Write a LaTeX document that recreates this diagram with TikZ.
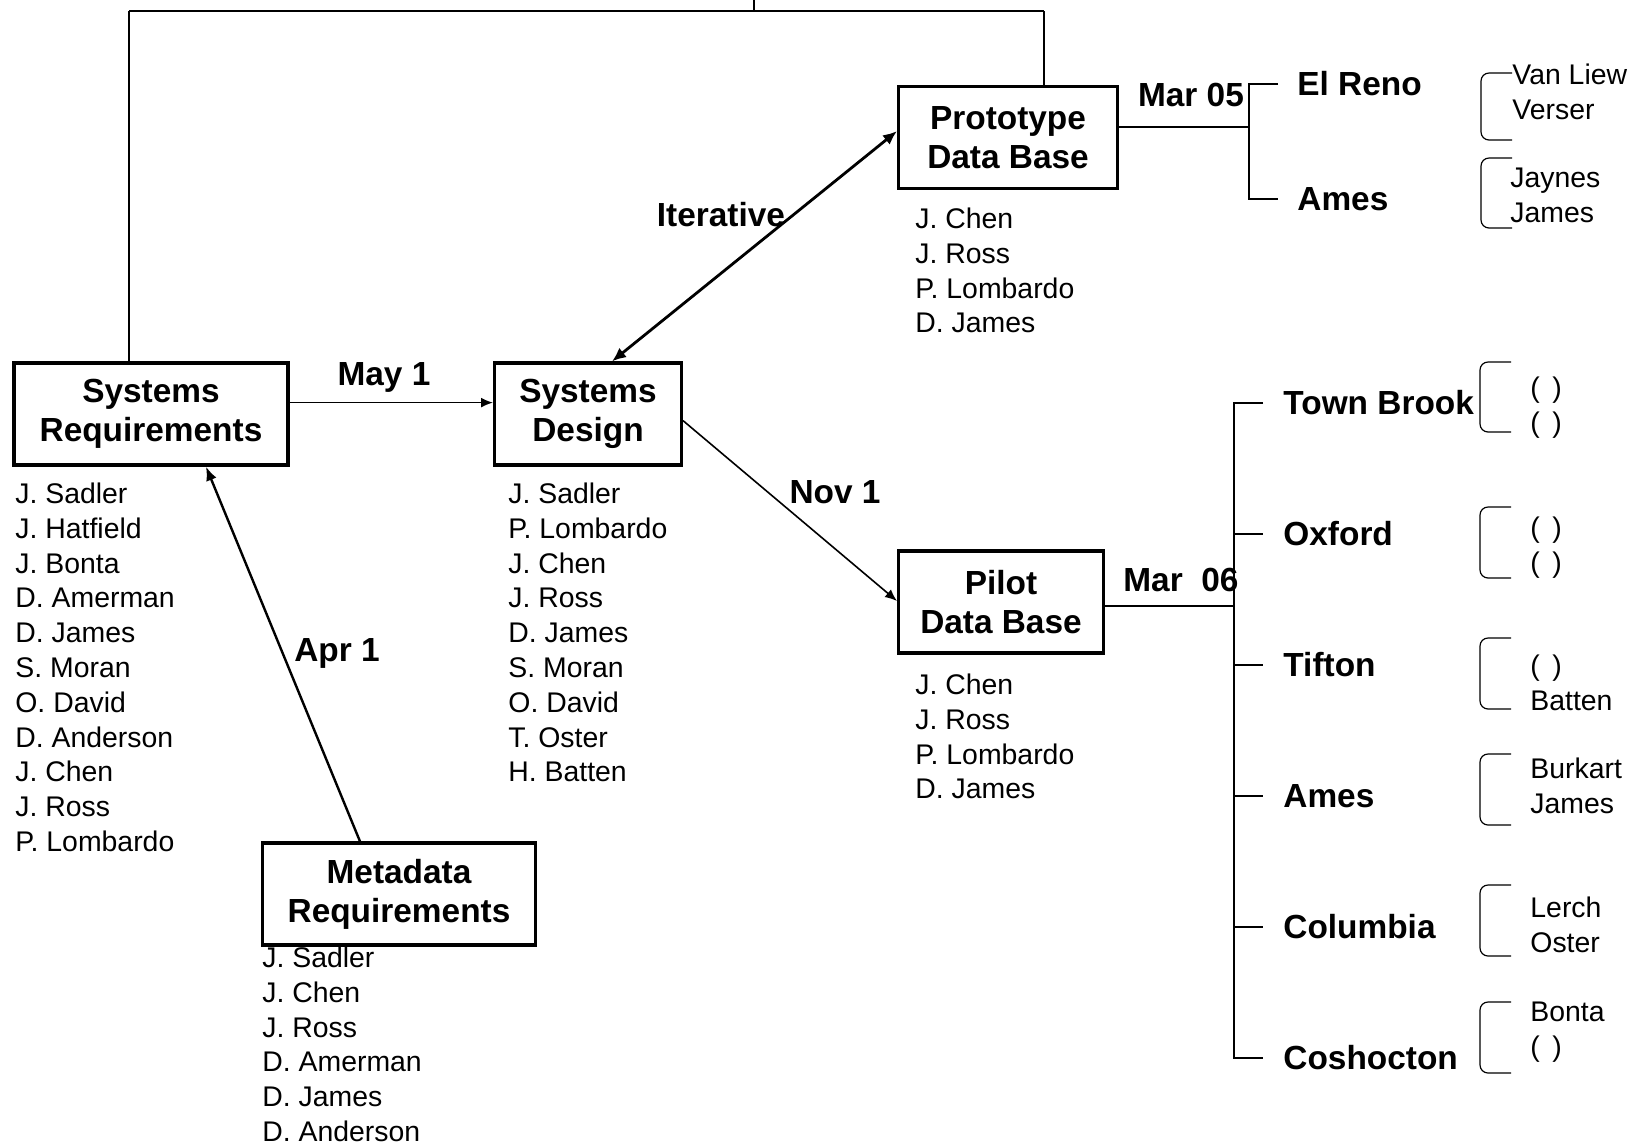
\documentclass[tikz,border=0pt]{standalone}
\usepackage{fontspec}
\setmainfont{Liberation Sans}
\usepackage{tikz}
\usetikzlibrary{arrows.meta}
\newcommand{\boxfont}{\fontsize{16.7}{19.4}\selectfont\bfseries}
\newcommand{\namefont}{\fontsize{14.2}{17.4}\selectfont}

\begin{document}
\begin{tikzpicture}[x=0.5pt, y=-0.5pt,
    phase/.style={draw, line width=1.6pt, align=center, font=\boxfont, inner sep=0pt, minimum height=51pt},
    people/.style={anchor=north west, align=left, inner sep=0pt, font=\namefont},
    site/.style={anchor=west, inner sep=0pt, font=\boxfont},
    when/.style={inner sep=0pt, font=\boxfont},
    link/.style={line width=0.8pt, -{Latex[length=6pt,width=5pt]}},
    fork/.style={line width=0.8pt},
    bracket/.style={line width=0.6pt, rounded corners=4pt}]
    \useasboundingbox (0,0) rectangle (1642,1147);

    % Phase boxes
    \node[phase, minimum width=137pt] (sysreq) at (151,414) {Systems\\Requirements};
    \node[phase, minimum width=93.4pt] (sysdes) at (588,414) {Systems\\Design};
    \node[phase, minimum width=109.4pt] (proto) at (1008,137.5) {Prototype\\Data Base};
    \node[phase, minimum width=102.4pt] (pilot) at (1001,602) {Pilot\\Data Base};
    \node[phase, minimum width=136.4pt] (meta) at (399,894) {Metadata\\Requirements};

    % People under each box
    \node[people] (reqteam) at (15,482.5) {J. Sadler\\J. Hatfield\\J. Bonta\\D. Amerman\\D. James\\S. Moran\\O. David\\D. Anderson\\J. Chen\\J. Ross\\P. Lombardo};
    \node[people] (desteam) at (508,482.5) {J. Sadler\\P. Lombardo\\J. Chen\\J. Ross\\D. James\\S. Moran\\O. David\\T. Oster\\H. Batten};
    \node[people] (prototeam) at (915,207.5) {J. Chen\\J. Ross\\P. Lombardo\\D. James};
    \node[people] (pilotteam) at (915,673.5) {J. Chen\\J. Ross\\P. Lombardo\\D. James};
    \node[people] (metateam) at (262,946.5) {J. Sadler\\J. Chen\\J. Ross\\D. Amerman\\D. James\\D. Anderson};

    % Links between phases
    \draw[link] ([yshift=5.7pt]sysreq.east) -- ([yshift=5.7pt]sysdes.west);
    \draw[line width=1.4pt, {Latex[length=7pt,width=6pt]}-{Latex[length=7pt,width=6pt]}] ([xshift=12pt]sysdes.north) -- ([yshift=3.2pt]proto.west);
    \draw[link] ([yshift=-3.3pt]sysdes.east) -- ([yshift=0.5pt]pilot.west);
    \draw[line width=1.2pt, -{Latex[length=7pt,width=5.5pt]}] ([xshift=-19.5pt]meta.north) -- ([xshift=27.5pt]sysreq.south);
    \node[when] (may) at (384,377) {May 1};
    \node[when] (iter) at (721,215) {Iterative};
    \node[when] (nov) at (835,492) {Nov 1};
    \node[when] (apr) at (337,653) {Apr 1};

    % Frame over the top
    \coordinate (rail) at (0,11);
    \coordinate (stub) at (754,0);
    \draw[fork] ([xshift=-11pt]sysreq.north) -- ([xshift=-11pt]sysreq.north |- rail);
    \draw[fork] ([xshift=18pt]proto.north) -- ([xshift=18pt]proto.north |- rail);
    \draw[line width=1.3pt] ([xshift=-11pt]sysreq.north |- rail) -- ([xshift=18pt]proto.north |- rail);
    \draw[fork] (stub) -- (stub |- rail);

    % Prototype sites
    \node[when] (mar05) at (1191,95) {Mar 05};
    \node[site] (elreno) at (1297,84) {El Reno};
    \node[site] (ames05) at (1297,199) {Ames};
    \coordinate (f05) at (1249,127);
    \draw[fork] (proto.east |- f05) -- (f05);
    \draw[fork] ([xshift=-9.5pt]elreno.west) -| (f05) |- ([xshift=-9.5pt]ames05.west);
    \draw[bracket] (1512,73) -- (1481,73) -- (1481,140) -- (1512,140);
    \draw[bracket] (1512,158) -- (1481,158) -- (1481,228) -- (1512,228);
    \node[people] (elrenoteam) at (1512,63.5) {Van Liew\\Verser};
    \node[people] (amesteam05) at (1510,167.5) {Jaynes\\James};

    % Pilot sites
    \node[when, anchor=west] (mar06) at (1123,580) {Mar~~06};
    \node[site] (townbrook) at (1283,403) {Town Brook};
    \node[site] (oxford) at (1283,534) {Oxford};
    \node[site] (tifton) at (1283,665) {Tifton};
    \node[site] (ames06) at (1283,796) {Ames};
    \node[site] (columbia) at (1283,927) {Columbia};
    \node[site] (coshocton) at (1283,1058) {Coshocton};
    \coordinate (f06) at (1234,606);
    \draw[fork] (pilot.east |- f06) -- (f06);
    \draw[fork] ([xshift=-10pt]townbrook.west) -| (f06) |- ([xshift=-10pt]coshocton.west);
    \draw[fork] (f06 |- oxford.west) -- ([xshift=-10pt]oxford.west);
    \draw[fork] (f06 |- tifton.west) -- ([xshift=-10pt]tifton.west);
    \draw[fork] (f06 |- ames06.west) -- ([xshift=-10pt]ames06.west);
    \draw[fork] (f06 |- columbia.west) -- ([xshift=-10pt]columbia.west);

    \draw[bracket] (1511,362) -- (1480,362) -- (1480,432) -- (1511,432);
    \draw[bracket] (1511,507) -- (1480,507) -- (1480,578) -- (1511,578);
    \draw[bracket] (1511,638) -- (1480,638) -- (1480,709) -- (1511,709);
    \draw[bracket] (1511,754) -- (1480,754) -- (1480,825) -- (1511,825);
    \draw[bracket] (1511,885) -- (1480,885) -- (1480,956) -- (1511,956);
    \draw[bracket] (1511,1002) -- (1480,1002) -- (1480,1073) -- (1511,1073);
    \node[people] (townbrookteam) at (1530,376.5) {(\,~)\\(\,~)};
    \node[people] (oxfordteam) at (1530,516.5) {(\,~)\\(\,~)};
    \node[people] (tiftonteam) at (1530,654.5) {(\,~)\\Batten};
    \node[people] (amesteam06) at (1530,757.5) {Burkart\\James};
    \node[people] (columbiateam) at (1530,896.5) {Lerch\\Oster};
    \node[people] (coshoctonteam) at (1530,1001.5) {Bonta\\(\,~)};
\end{tikzpicture}
\end{document}
